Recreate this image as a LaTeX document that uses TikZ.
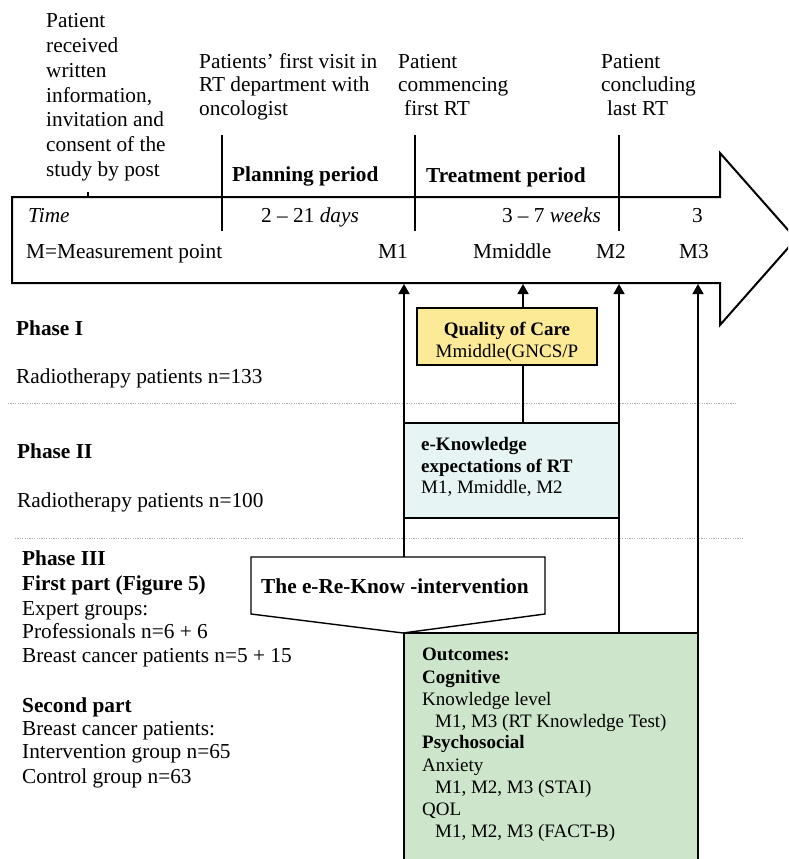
\documentclass[tikz,border=0pt]{standalone}
\usepackage{fontspec}
\setmainfont{Liberation Serif}
\usetikzlibrary{arrows.meta}
\definecolor{qcyellow}{HTML}{FCEA96}
\definecolor{ekcyan}{HTML}{E6F4F4}
\definecolor{ocgreen}{HTML}{CDE5CA}
\tikzset{
  txt/.style={anchor=base west, inner sep=0pt, font=\fontsize{21.3}{24.5}\selectfont},
  btxt/.style={txt, font=\fontsize{21.3}{24.5}\selectfont\bfseries},
  small/.style={anchor=base west, inner sep=0pt, font=\fontsize{19}{22}\selectfont},
  bsmall/.style={small, font=\fontsize{19}{22}\selectfont\bfseries},
  tick/.style={line width=1.4pt},
  uparrow/.style={line width=1.4pt, -{Triangle[length=10pt,width=11pt]}},
  sep/.style={gray!65, line width=0.9pt, dash pattern=on 1.2pt off 1.2pt},
  boxline/.style={draw, line width=1.8pt},
}
\begin{document}
\begin{tikzpicture}[x=1pt,y=-1pt]
\clip (0,0) rectangle (788,859);
\useasboundingbox (0,0) rectangle (788,859);

% time arrow
\draw[line width=2pt, fill=white, line join=miter]
  (12,197) -- (720,197) -- (720,153) -- (796,239) -- (720,325) -- (720,283) -- (12,283) -- cycle;

% milestone ticks
\draw[tick] (88,192) -- (88,197);
\draw[tick] (222,135) -- (222,231);
\draw[tick] (415,135) -- (415,231);
\draw[tick] (619,135) -- (619,231);

% milestone captions
\foreach \t [count=\i] in {Patient, received, written, {information,}, invitation and, consent of the, study by post}
  \node[txt] (post\i) at (46, 28+24.7*\i-24.7) {\t};
\foreach \t [count=\i] in {Patients’ first visit in, RT department with, oncologist}
  \node[txt] (visit\i) at (199, 68+23.8*\i-23.8) {\t};
\node[txt] (first1) at (398,68) {Patient};
\node[txt] (first2) at (398,92) {commencing};
\node[txt] (first3) at (404,115) {first RT};
\node[txt] (last1) at (601,68) {Patient};
\node[txt] (last2) at (601,92) {concluding};
\node[txt] (last3) at (607,115) {last RT};

% periods and time spans
\node[btxt] (planning) at (232,181) {Planning period};
\node[btxt] (treatment) at (426,182) {Treatment period};
\node[txt] (time) at (28,222) {\itshape Time};
\node[txt] (days) at (261,222) {2 – 21 \textit{days}};
\node[txt, anchor=base east] (weeks) at (601,222) {3 – 7 \textit{weeks}};
\node[txt] (three) at (692,222) {3};

% measurement points
\node[txt] (mlegend) at (26,258) {M=Measurement point};
\node[txt] (m1) at (378,258) {M1};
\node[txt] (mmid) at (473,258) {Mmiddle};
\node[txt] (m2) at (596,258) {M2};
\node[txt] (m3) at (679,258) {M3};

% phase separators
\draw[sep] (8,403) -- (737,403);
\draw[sep] (15,538) -- (743,538);

% phase descriptions
\node[btxt] (ph1) at (16,335) {Phase I};
\node[txt] (ph1n) at (16,383) {Radiotherapy patients n=133};
\node[btxt] (ph2) at (17,458) {Phase II};
\node[txt] (ph2n) at (17,507) {Radiotherapy patients n=100};
\node[btxt] (ph3) at (22,565) {Phase III};
\node[btxt] (ph3a) at (22,590) {First part (Figure 5)};
\node[txt] (ph3b) at (22,615) {Expert groups:};
\node[txt] (ph3c) at (22,638) {Professionals n=6 + 6};
\node[txt] (ph3d) at (22,662) {Breast cancer patients n=5 + 15};
\node[btxt] (ph3e) at (22,712) {Second part};
\node[txt] (ph3f) at (22,735) {Breast cancer patients:};
\node[txt] (ph3g) at (22,758) {Intervention group n=65};
\node[txt] (ph3h) at (22,783) {Control group n=63};

% study boxes
\node[boxline, fill=qcyellow, minimum width=180pt, minimum height=57pt, inner sep=0pt] (qoc) at (507,336.5) {};
\node[bsmall, anchor=base] (qoct) at (507,335) {Quality of Care};
\node[small, anchor=base] (qocm) at (507,357) {Mmiddle(GNCS/P};

\node[boxline, fill=ekcyan, minimum width=215pt, minimum height=95pt, inner sep=0pt] (ek) at (511.5,470.5) {};
\node[bsmall] (ek1) at (421,450) {e-Knowledge};
\node[bsmall] (ek2) at (421,472) {expectations of RT};
\node[small] (ek3) at (421,493) {M1, Mmiddle, M2};

\draw[line width=1.8pt, fill=ocgreen] (404,633) rectangle (698,875);
\coordinate (ocl) at (404,633);
\coordinate (ocr) at (698,633);
\coordinate (ocm2) at (619,633);
\node[bsmall] (oc1) at (422,660) {Outcomes:};
\node[bsmall] (oc2) at (422,683) {Cognitive};
\node[small] (oc3) at (422,705) {Knowledge level};
\node[small] (oc4) at (435,727) {M1, M3 (RT Knowledge Test)};
\node[bsmall] (oc5) at (422,748) {Psychosocial};
\node[small] (oc6) at (422,771) {Anxiety};
\node[small] (oc7) at (435,793) {M1, M2, M3 (STAI)};
\node[small] (oc8) at (422,815) {QOL};
\node[small] (oc9) at (435,837) {M1, M2, M3 (FACT-B)};

% intervention pointer
\draw[line width=1.4pt, fill=white, line join=miter]
  (251,557) -- (545,557) -- (545,614) -- (403,633) -- (251,614) -- cycle;
\coordinate (intop) at (404,557);
\node[btxt] (interv) at (261,593) {The e-Re-Know -intervention};

% measurement arrows
\coordinate (a1) at (404,284);
\coordinate (amid) at (523,284);
\coordinate (a2) at (619,284);
\coordinate (a3) at (698,284);
\draw[uparrow] (intop) -- (a1);
\draw[uparrow] (qoc.north -| amid) -- (amid);
\draw[tick] (ek.north -| amid) -- (qoc.south -| amid);
\draw[uparrow] (ocm2) -- (a2);
\draw[uparrow] (ocr) -- (a3);
\end{tikzpicture}
\end{document}
